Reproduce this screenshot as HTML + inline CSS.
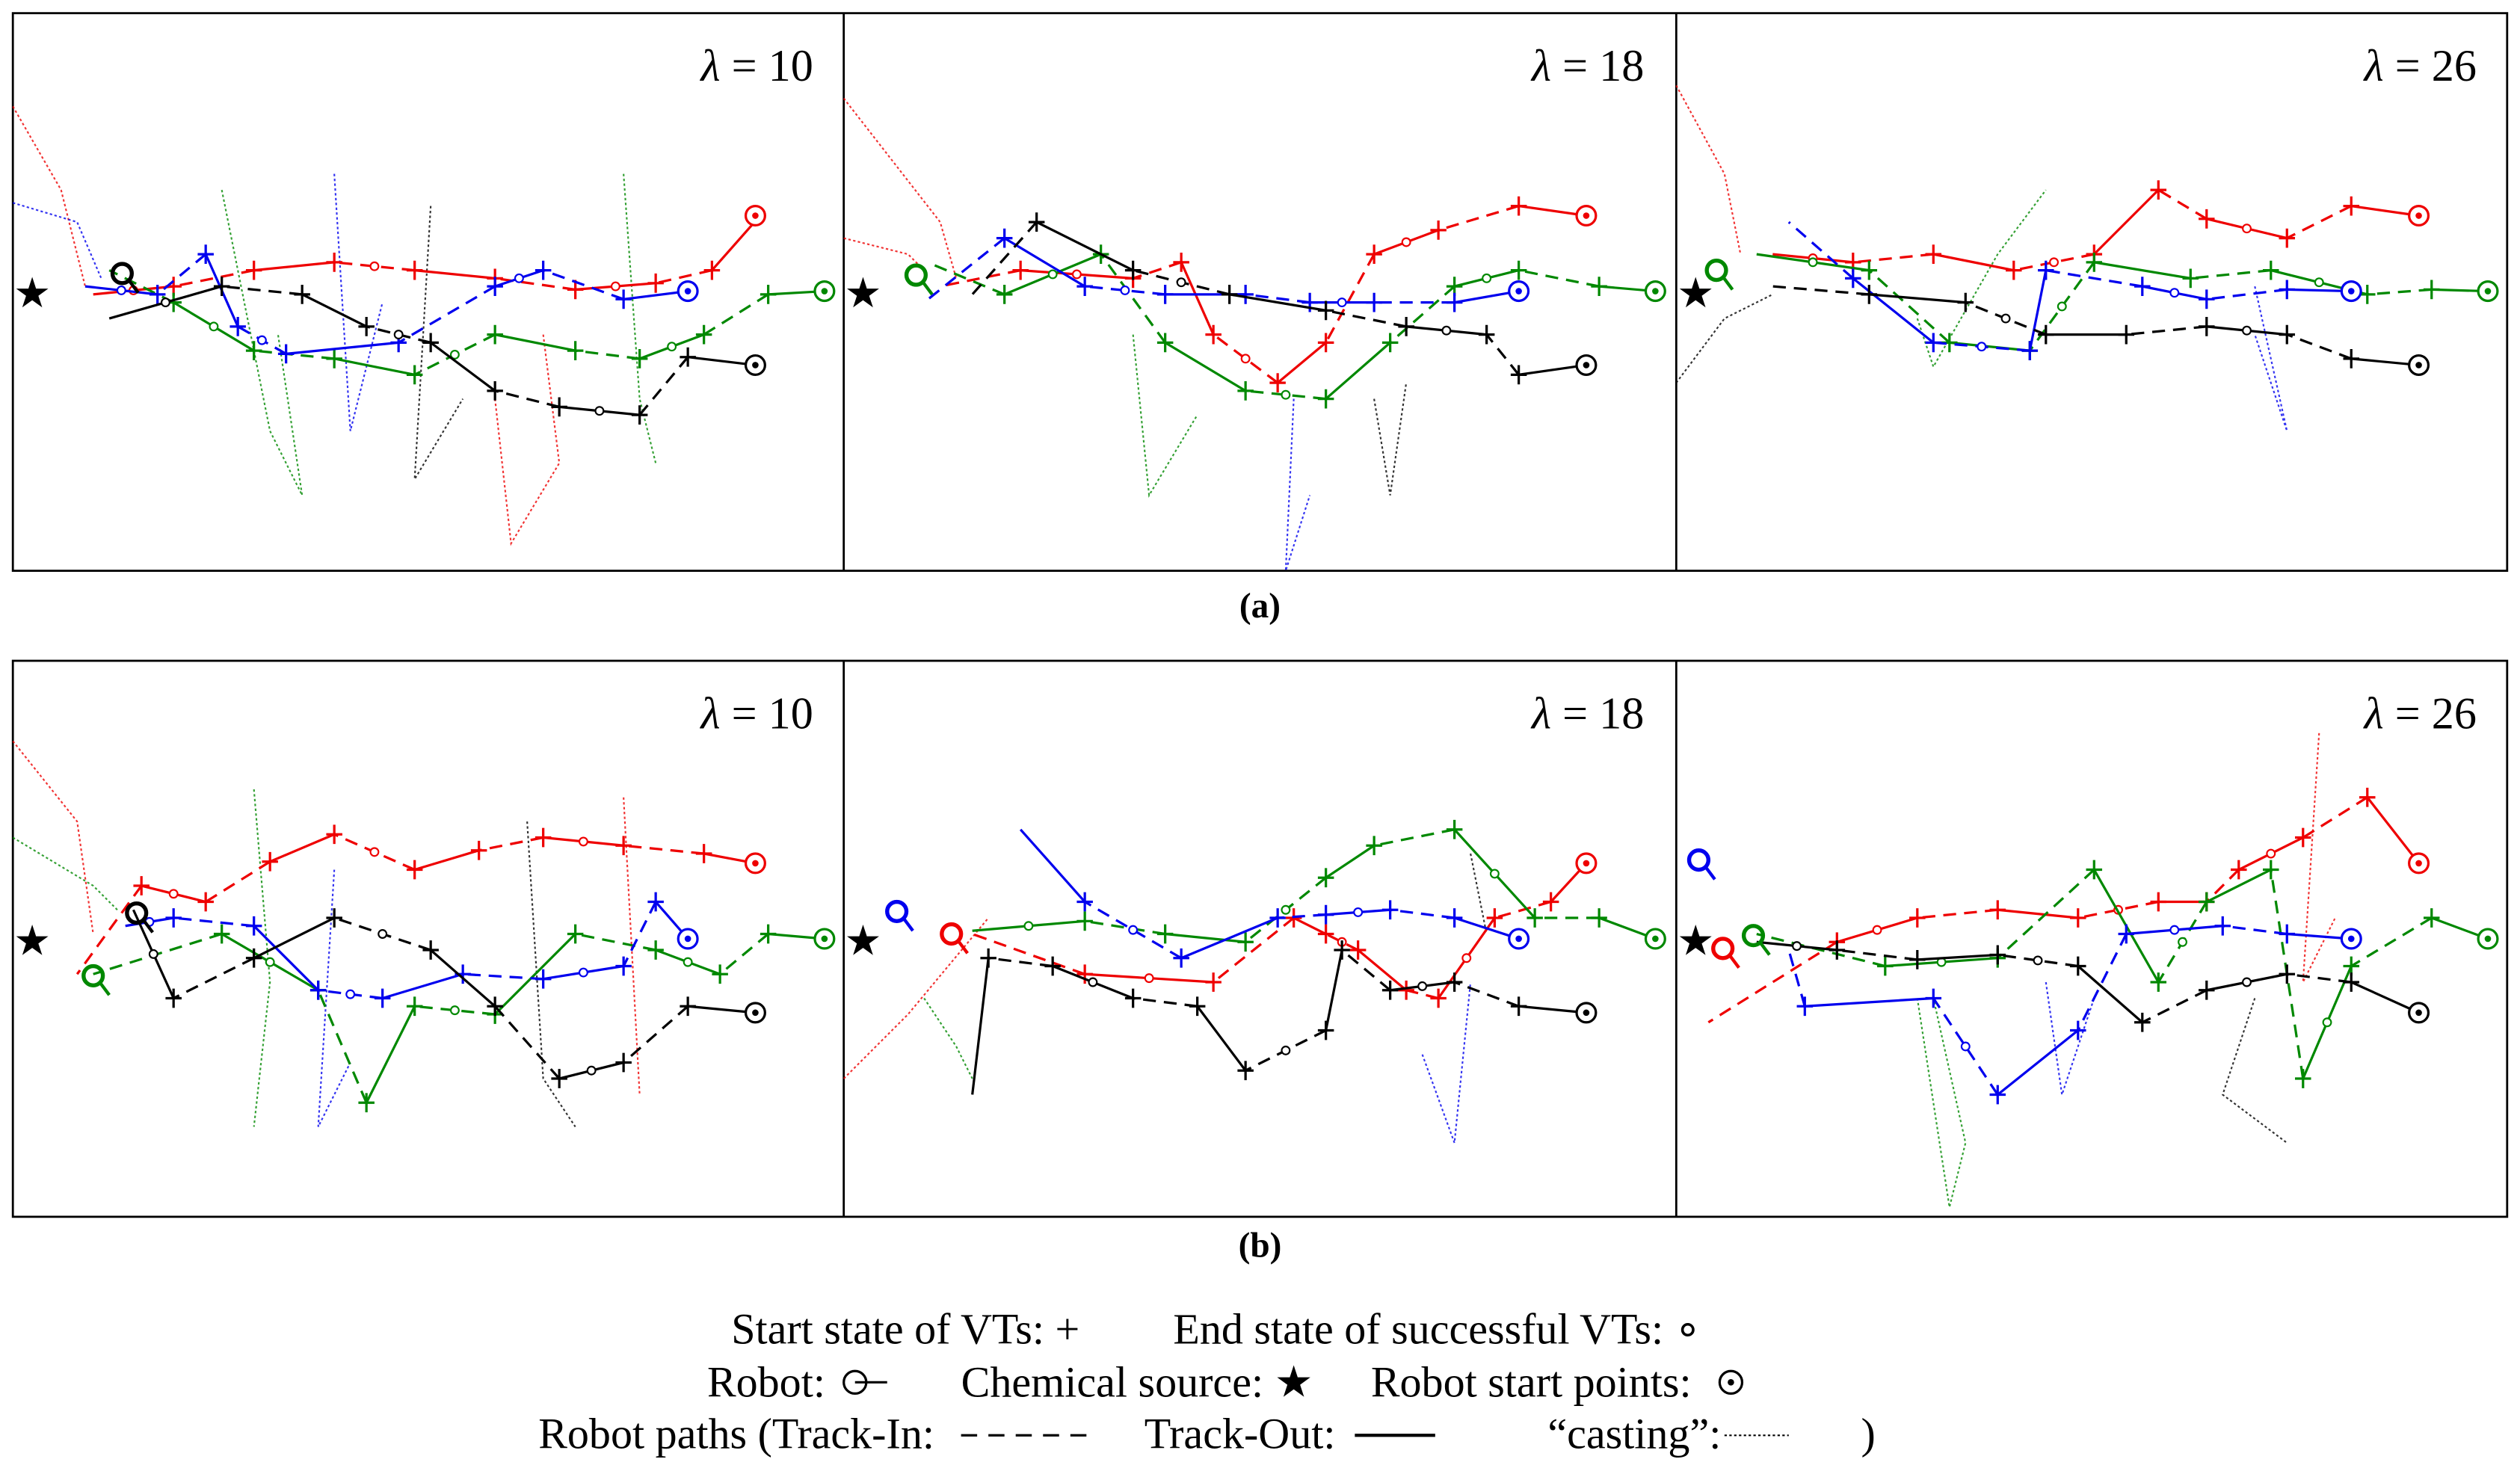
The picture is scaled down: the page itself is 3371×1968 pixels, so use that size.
<!DOCTYPE html>
<html><head><meta charset="utf-8">
<style>
html,body{margin:0;padding:0;background:#fff;}
svg{display:block;}
text{font-family:"Liberation Serif",serif;fill:#000;}
</style></head>
<body>
<svg id="fig" width="3371" height="1968" viewBox="0 0 1568 915" xmlns="http://www.w3.org/2000/svg">
<g id="frames" fill="none" stroke="#000" stroke-width="1.3">
<rect x="8" y="8" width="1552" height="347"/>
<line x1="525" y1="8" x2="525" y2="355"/>
<line x1="1043" y1="8" x2="1043" y2="355"/>
<rect x="8" y="411" width="1552" height="346"/>
<line x1="525" y1="411" x2="525" y2="757"/>
<line x1="1043" y1="411" x2="1043" y2="757"/>
</g>
<text x="784" y="384" font-size="22" font-weight="bold" text-anchor="middle">(a)</text>
<text x="784" y="782" font-size="22" font-weight="bold" text-anchor="middle">(b)</text>
<g id="plots"></g>
<g font-size="27">
<text x="455" y="836">Start state of VTs:  +</text>
<text x="730" y="836">End state of successful VTs: ∘</text>
<text x="440" y="869">Robot:</text>
<circle cx="532" cy="860" r="7" fill="none" stroke="#000" stroke-width="1.5"/><line x1="532" y1="860" x2="552" y2="860" stroke="#000" stroke-width="1.5"/>
<text x="598" y="869">Chemical source: ★</text>
<text x="853" y="869">Robot start points:</text>
<circle cx="1077" cy="860" r="7" fill="none" stroke="#000" stroke-width="1.5"/><circle cx="1077" cy="860" r="2" fill="#000"/>
<text x="335" y="901">Robot paths (Track-In:</text>
<line x1="598" y1="893" x2="682" y2="893" stroke="#000" stroke-width="1.5" stroke-dasharray="10,7"/>
<text x="712" y="901">Track-Out:</text>
<line x1="843" y1="893" x2="893" y2="893" stroke="#000" stroke-width="2"/>
<text x="963" y="901">“casting”:</text>
<line x1="1073" y1="893" x2="1113" y2="893" stroke="#000" stroke-width="1" stroke-dasharray="1.5,1.5"/>
<text x="1158" y="901">)</text>
</g>
</svg>
<script>
const panelX=[8,525,1043];
const panelY=[8,411];
const lambdas=["10","18","26"];
const colors=["#e00","#080","#00e","#000"];
const trackPaths=[
 [[[465,126],[435,160],[400,168],[350,172],[300,165],[250,160],[200,155],[150,160],[100,170],[50,175]],
  [[505,173],[470,175],[430,200],[390,215],[350,210],[300,200],[250,225],[200,215],[150,210],[100,180],[60,160]],
  [[420,173],[380,178],[330,160],[300,170],[240,205],[170,212],[140,195],[120,150],[90,175],[45,170]],
  [[462,219],[420,214],[390,250],[340,245],[300,235],[260,205],[220,195],[180,175],[130,170],[60,190]]],
 [[[462,126],[420,120],[370,135],[330,150],[300,205],[270,230],[230,200],[210,155],[180,165],[110,160],[60,170]],
  [[505,173],[470,170],[420,160],[380,170],[340,205],[300,240],[250,235],[200,205],[160,150],[100,175],[52,155]],
  [[420,173],[380,180],[330,180],[290,180],[250,175],[200,175],[150,170],[100,140],[50,180]],
  [[462,219],[420,225],[400,200],[350,195],[300,185],[240,175],[180,160],[120,130],[80,175]]],
 [[[462,126],[420,120],[380,140],[330,128],[300,110],[260,150],[210,160],[160,150],[110,155],[60,150]],
  [[505,173],[470,172],[430,175],[370,160],[320,165],[260,155],[220,210],[170,205],[120,160],[50,150]],
  [[420,173],[380,172],[330,178],[290,170],[230,160],[220,210],[160,205],[110,165],[70,130]],
  [[462,219],[420,215],[380,200],[330,195],[280,200],[230,200],[180,180],[120,175],[60,170]]],
 [[[462,126],[430,120],[380,115],[330,110],[290,118],[250,130],[200,108],[160,125],[120,150],[80,140],[40,195]],
  [[505,173],[470,170],[440,195],[400,180],[350,170],[300,220],[250,215],[220,275],[190,205],[130,170],[50,195]],
  [[420,173],[400,150],[380,190],[330,198],[280,195],[230,210],[190,205],[150,165],[100,160],[70,165]],
  [[462,219],[420,215],[380,250],[340,260],[300,215],[260,180],[200,160],[150,185],[100,210],[75,155]]],
 [[[462,126],[440,150],[405,160],[370,210],[350,205],[320,180],[300,170],[280,160],[230,200],[150,195],[80,170]],
  [[505,173],[470,160],[430,160],[380,105],[330,115],[300,135],[250,175],[200,170],[150,162],[80,168]],
  [[420,173],[380,160],[340,155],[300,158],[270,160],[210,185],[150,150],[110,105]],
  [[462,219],[420,215],[380,200],[340,205],[310,180],[300,230],[250,255],[220,215],[180,210],[130,190],[90,185],[80,270]]],
 [[[462,126],[430,85],[390,110],[350,130],[330,150],[300,150],[250,160],[200,155],[150,160],[100,175],[20,225]],
  [[505,173],[470,160],[420,190],[390,260],[370,130],[330,150],[300,200],[260,130],[200,185],[130,190],[50,170]],
  [[420,173],[380,170],[340,165],[280,170],[250,230],[200,270],[160,210],[80,215],[70,180]],
  [[462,219],[420,200],[380,195],[330,205],[290,225],[250,190],[200,183],[150,186],[100,180],[50,175]]]
];
const castPaths=[
 [[[0,58],[30,110],[45,170]],[[130,110],[160,260],[180,300],[165,200]],[[200,100],[210,260],[230,180]],[[260,120],[250,290],[280,240]],[[300,240],[310,330],[340,280],[330,200]],[[380,100],[390,240],[400,280]],[[0,118],[40,130],[55,165]]],
 [[[0,53],[60,130],[70,165]],[[180,200],[190,300],[220,250]],[[280,240],[275,347],[290,300]],[[330,240],[340,300],[350,230]],[[0,140],[40,150],[50,160]]],
 [[[0,45],[30,100],[40,150]],[[150,190],[160,220],[200,150],[230,110]],[[360,170],[380,260],[360,200]],[[0,230],[30,190],[60,175]]],
 [[[0,50],[40,100],[50,170]],[[150,80],[160,200],[150,290]],[[200,130],[190,290],[210,250]],[[320,100],[330,260],[350,290]],[[380,85],[390,270]],[[0,110],[50,140],[65,155]]],
 [[[0,260],[40,220],[90,160]],[[50,210],[70,240],[80,260]],[[360,245],[380,300],[390,200]],[[390,120],[400,170]]],
 [[[400,45],[390,200],[410,160]],[[150,210],[170,340],[180,300],[160,210]],[[230,200],[240,270],[260,210]],[[360,210],[340,270],[380,300]]]
];
const robotPos=[[[68,162,3]],[[570-525,163,1]],[[1068-1043,160,1]],[[85-8,568-411,3],[58-8,607-411,1]],[[558-525,567-411,2],[592-525,581-411,0]],[[1057-1043,535-411,2],[1072-1043,590-411,0],[1091-1043,582-411,1]]];
const startPts=[[462,126],[505,173],[420,173],[462,219]];
const NS="http://www.w3.org/2000/svg";
const plots=document.getElementById('plots');
function mk(tag,attrs,parent){const e=document.createElementNS(NS,tag);for(const k in attrs)e.setAttribute(k,attrs[k]);parent.appendChild(e);return e;}
function px(p,x){return panelX[p%3]+x;}
function py(p,y){return panelY[Math.floor(p/3)]+y;}
for(let p=0;p<6;p++){
 const g=mk('g',{},plots);
 
 
 castPaths[p].forEach((cp,i)=>{
  const path=mk('polyline',{points:cp.map(q=>px(p,q[0])+','+py(p,q[1])).join(' '),fill:'none',stroke:colors[i%4],'stroke-width':1,'stroke-dasharray':'1.5,1.5',opacity:0.8},g);
  
  
 });
 trackPaths[p].forEach((tp,ci)=>{
  for(let k=0;k<tp.length-1;k++){
   const a=tp[k],b=tp[k+1];
   const seg=mk('line',{x1:px(p,a[0]),y1:py(p,a[1]),x2:px(p,b[0]),y2:py(p,b[1]),stroke:colors[ci],'stroke-width':1.5},g);
   if(k%2===1)seg.setAttribute('stroke-dasharray','8,5');
   
   
   const X=px(p,a[0]),Y=py(p,a[1]);
   if(k>0){
    const pl=mk('path',{d:`M${X-5},${Y}H${X+5}M${X},${Y-6}V${Y+6}`,stroke:colors[ci],'stroke-width':1.5},g);
    
    
   }
   if(k%3===2){
    const c=mk('circle',{cx:(X+px(p,b[0]))/2,cy:(Y+py(p,b[1]))/2,r:2.5,fill:'#fff',stroke:colors[ci],'stroke-width':1},g);
    
    
   }
  }
 });
 startPts.forEach((s,i)=>{
  const c=mk('circle',{cx:px(p,s[0]),cy:py(p,s[1]),r:6,fill:'#fff',stroke:colors[i],'stroke-width':1.5},g);
  
  
  mk('circle',{cx:px(p,s[0]),cy:py(p,s[1]),r:2,fill:colors[i]},g);
 });
 robotPos[p].forEach(r=>{
  const cx=px(p,r[0]),cy=py(p,r[1]);
  const c=mk('circle',{cx:cx,cy:cy,r:6,fill:'none',stroke:colors[r[2]],'stroke-width':2.5},g);
  
  
  mk('line',{x1:cx+4,y1:cy+4,x2:cx+10,y2:cy+12,stroke:colors[r[2]],'stroke-width':2},g);
 });
 const st=mk('text',{x:px(p,12),y:py(p,183),'font-size':26,'text-anchor':'middle'},g);
 st.textContent='★';
 
 
 const lt=mk('text',{x:px(p,498),y:py(p,42),'font-size':28,'text-anchor':'end'},g);
 lt.innerHTML='<tspan font-style="italic">λ</tspan> = '+lambdas[p%3];
 
 
}
</script>
</body></html>
